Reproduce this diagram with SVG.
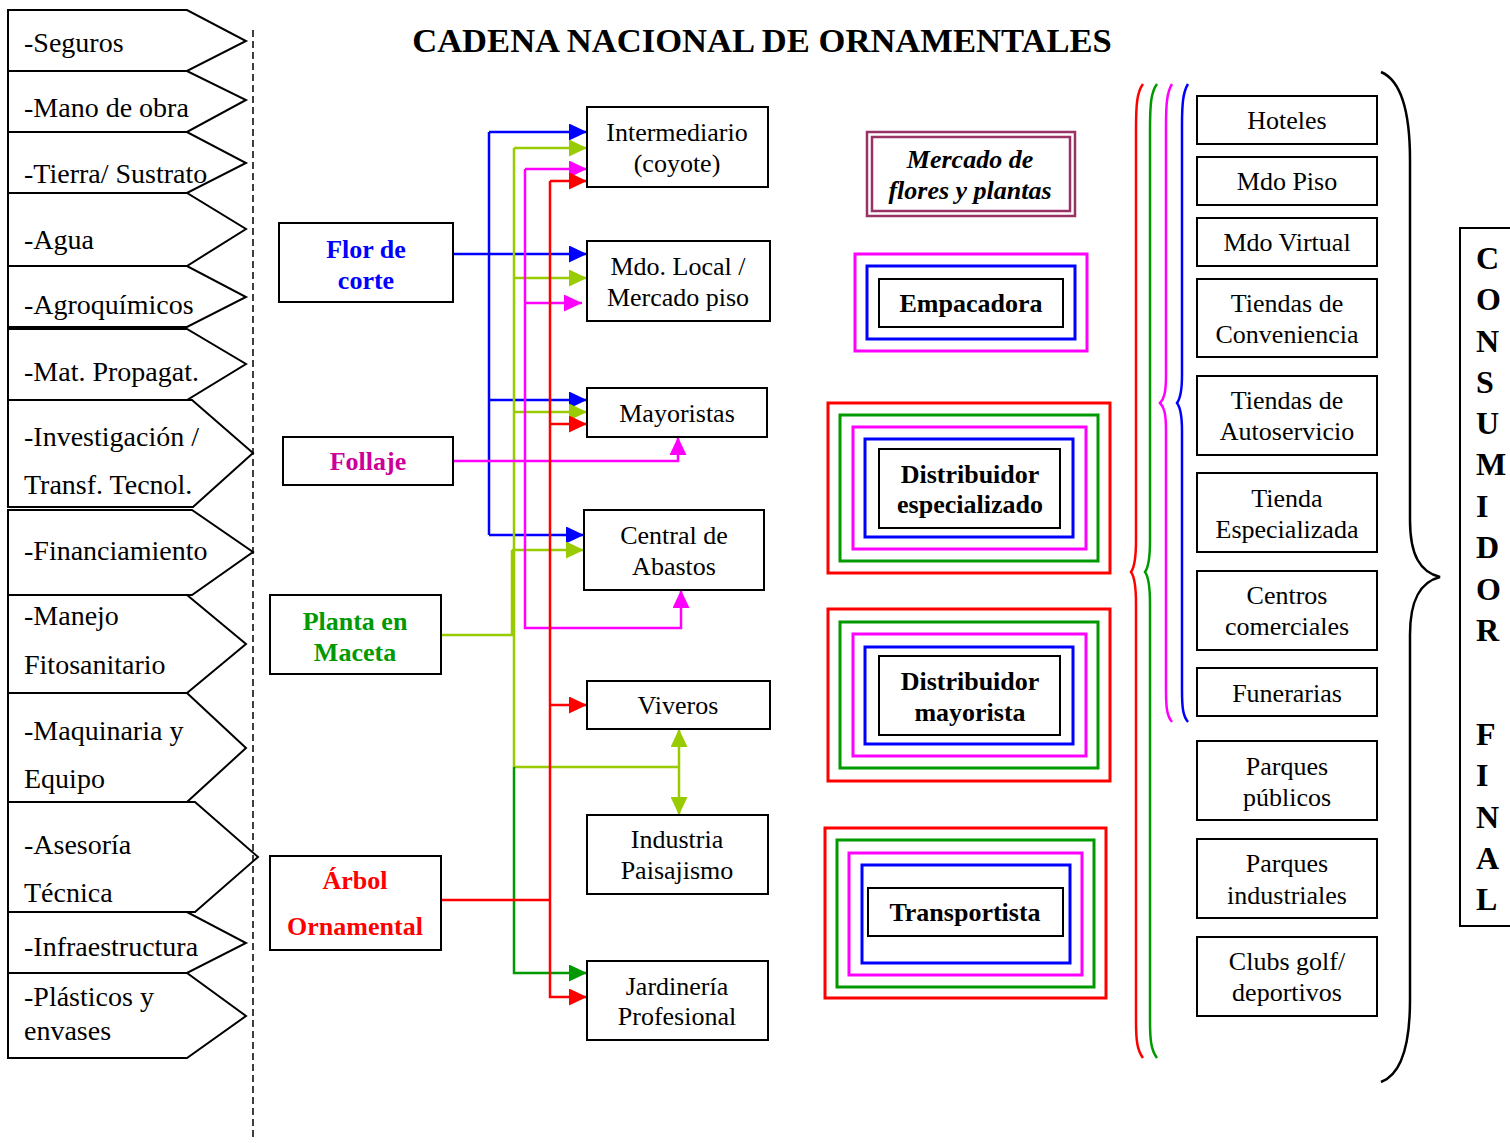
<svg xmlns="http://www.w3.org/2000/svg" width="1510" height="1143" viewBox="0 0 1510 1143">
<style>
.bg{fill:#fff}
.arr{fill:#fff;stroke:#000;stroke-width:2}
.lt{font-family:"Liberation Serif","Times New Roman",serif;font-size:28px;fill:#000}
.box{fill:#fff;stroke:#000;stroke-width:2}
.bt{font-family:"Liberation Serif","Times New Roman",serif;font-size:26px;fill:#000;text-anchor:middle}
.sb{font-family:"Liberation Serif","Times New Roman",serif;font-size:26px;font-weight:bold;text-anchor:middle}
.nb{font-family:"Liberation Serif","Times New Roman",serif;font-size:26px;font-weight:bold;fill:#000;text-anchor:middle}
.title{font-family:"Liberation Serif","Times New Roman",serif;font-size:34.6px;font-weight:bold;fill:#000;text-anchor:middle}
.cf{font-family:"Liberation Serif","Times New Roman",serif;font-size:32px;font-weight:bold;fill:#000}
.fr{fill:none;stroke-width:3}
.cb{fill:none;stroke:#0000FF;stroke-width:2.5}
.cy{fill:none;stroke:#99CC00;stroke-width:2.5}
.cm{fill:none;stroke:#FF00FF;stroke-width:2.5}
.cr{fill:none;stroke:#FF0000;stroke-width:2.5}
.cg{fill:none;stroke:#009900;stroke-width:2.5}
.brace{fill:none;stroke-width:2.5}
</style>
<defs>
<marker id="ab" markerUnits="userSpaceOnUse" markerWidth="18" markerHeight="17" refX="18" refY="8.5" orient="auto"><path d="M0,0 L18,8.5 L0,17 z" fill="#0000FF"/></marker>
<marker id="ay" markerUnits="userSpaceOnUse" markerWidth="18" markerHeight="17" refX="18" refY="8.5" orient="auto"><path d="M0,0 L18,8.5 L0,17 z" fill="#99CC00"/></marker>
<marker id="am" markerUnits="userSpaceOnUse" markerWidth="18" markerHeight="17" refX="18" refY="8.5" orient="auto"><path d="M0,0 L18,8.5 L0,17 z" fill="#FF00FF"/></marker>
<marker id="ar" markerUnits="userSpaceOnUse" markerWidth="18" markerHeight="17" refX="18" refY="8.5" orient="auto"><path d="M0,0 L18,8.5 L0,17 z" fill="#FF0000"/></marker>
<marker id="ag" markerUnits="userSpaceOnUse" markerWidth="18" markerHeight="17" refX="18" refY="8.5" orient="auto"><path d="M0,0 L18,8.5 L0,17 z" fill="#009900"/></marker>
</defs>
<rect class="bg" x="0" y="0" width="1510" height="1143"/>

<text class="title" x="762" y="52">CADENA NACIONAL DE ORNAMENTALES</text>

<!-- left input column -->
<g id="inputs">
<g id="in-seguros"><polygon class="arr" points="8,10 187,10 246,41 187,71 8,71"/><text class="lt" x="24" y="52">-Seguros</text></g>
<g id="in-mano"><polygon class="arr" points="8,71 187,71 246,100 187,132 8,132"/><text class="lt" x="24" y="117">-Mano de obra</text></g>
<g id="in-tierra"><polygon class="arr" points="8,132 187,132 246,163 187,193 8,193"/><text class="lt" x="24" y="183">-Tierra/ Sustrato</text></g>
<g id="in-agua"><polygon class="arr" points="8,193 187,193 246,229 187,266 8,266"/><text class="lt" x="24" y="249">-Agua</text></g>
<g id="in-agroq"><polygon class="arr" points="8,266 187,266 246,297 187,327 8,327"/><text class="lt" x="24" y="314">-Agroquímicos</text></g>
<g id="in-matprop"><polygon class="arr" points="8,329 187,329 246,364 187,400 8,400"/><text class="lt" x="24" y="381">-Mat. Propagat.</text></g>
<g id="in-invest"><polygon class="arr" points="8,400 192,400 253,453 193,507 8,507"/><text class="lt" x="24" y="446">-Investigación /</text><text class="lt" x="24" y="494">Transf. Tecnol.</text></g>
<g id="in-financ"><polygon class="arr" points="8,510 192,510 253,552 192,595 8,595"/><text class="lt" x="24" y="560">-Financiamiento</text></g>
<g id="in-manejo"><polygon class="arr" points="8,595 187,595 246,644 187,693 8,693"/><text class="lt" x="24" y="625">-Manejo</text><text class="lt" x="24" y="674">Fitosanitario</text></g>
<g id="in-maquinaria"><polygon class="arr" points="8,693 187,693 246,748 187,802 8,802"/><text class="lt" x="24" y="740">-Maquinaria y</text><text class="lt" x="24" y="788">Equipo</text></g>
<g id="in-asesoria"><polygon class="arr" points="8,802 195,802 258,857 195,912 8,912"/><text class="lt" x="24" y="854">-Asesoría</text><text class="lt" x="24" y="902">Técnica</text></g>
<g id="in-infra"><polygon class="arr" points="8,912 187,912 246,943 187,973 8,973"/><text class="lt" x="24" y="956">-Infraestructura</text></g>
<g id="in-plasticos"><polygon class="arr" points="8,973 187,973 246,1016 187,1058 8,1058"/><text class="lt" x="24" y="1006">-Plásticos y</text><text class="lt" x="24" y="1040">envases</text></g>
</g>

<line x1="253" y1="30" x2="253" y2="1140" stroke="#000" stroke-width="1.5" stroke-dasharray="7,4"/>

<!-- connectors -->
<g id="connectors">
<path class="cb" d="M489,132 V535"/>
<path class="cb" d="M489,132 H587" marker-end="url(#ab)"/>
<path class="cb" d="M453,254 H587" marker-end="url(#ab)"/>
<path class="cb" d="M489,400 H587" marker-end="url(#ab)"/>
<path class="cb" d="M489,535 H584" marker-end="url(#ab)"/>
<path class="cy" d="M514,148 V767"/>
<path class="cy" d="M514,148 H587" marker-end="url(#ay)"/>
<path class="cy" d="M514,278 H587" marker-end="url(#ay)"/>
<path class="cy" d="M514,412 H587" marker-end="url(#ay)"/>
<path class="cy" d="M512,550 H584" marker-end="url(#ay)"/>
<path class="cy" d="M512,550 V635"/>
<path class="cy" d="M441,635 H514"/>
<path class="cy" d="M514,767 H679"/>
<path class="cy" d="M679,767 V729" marker-end="url(#ay)"/>
<path class="cy" d="M679,767 V815" marker-end="url(#ay)"/>
<path class="cg" d="M514,767 V973 H587" marker-end="url(#ag)"/>
<path class="cm" d="M525,169 V628 H681 V590" marker-end="url(#am)"/>
<path class="cm" d="M525,169 H587" marker-end="url(#am)"/>
<path class="cm" d="M525,303 H582" marker-end="url(#am)"/>
<path class="cm" d="M453,461 H678 V437" marker-end="url(#am)"/>
<path class="cr" d="M550,181 V997 H587" marker-end="url(#ar)"/>
<path class="cr" d="M550,181 H587" marker-end="url(#ar)"/>
<path class="cr" d="M550,424 H587" marker-end="url(#ar)"/>
<path class="cr" d="M550,705 H587" marker-end="url(#ar)"/>
<path class="cr" d="M441,900 H550"/>
</g>

<!-- source nodes -->
<g id="src-flor"><rect class="box" x="279" y="223" width="174" height="79"/><text class="sb" fill="#0000FF" x="366" y="258">Flor de</text><text class="sb" fill="#0000FF" x="366" y="289">corte</text></g>
<g id="src-follaje"><rect class="box" x="283" y="437" width="170" height="48"/><text class="sb" fill="#CC0099" x="368" y="470">Follaje</text></g>
<g id="src-planta"><rect class="box" x="270" y="595" width="171" height="79"/><text class="sb" fill="#009900" x="355" y="630">Planta en</text><text class="sb" fill="#009900" x="355" y="661">Maceta</text></g>
<g id="src-arbol"><rect class="box" x="270" y="856" width="171" height="94"/><text class="sb" fill="#FF0000" x="355" y="889">Árbol</text><text class="sb" fill="#FF0000" x="355" y="935">Ornamental</text></g>

<!-- destination nodes -->
<g id="dst-intermediario"><rect class="box" x="587" y="107" width="181" height="80"/><text class="bt" x="677" y="141">Intermediario</text><text class="bt" x="677" y="172">(coyote)</text></g>
<g id="dst-mdolocal"><rect class="box" x="587" y="241" width="183" height="80"/><text class="bt" x="678" y="275">Mdo. Local /</text><text class="bt" x="678" y="306">Mercado piso</text></g>
<g id="dst-mayoristas"><rect class="box" x="587" y="388" width="180" height="49"/><text class="bt" x="677" y="422">Mayoristas</text></g>
<g id="dst-central"><rect class="box" x="584" y="510" width="180" height="80"/><text class="bt" x="674" y="544">Central de</text><text class="bt" x="674" y="575">Abastos</text></g>
<g id="dst-viveros"><rect class="box" x="587" y="681" width="183" height="48"/><text class="bt" x="678" y="714">Viveros</text></g>
<g id="dst-industria"><rect class="box" x="587" y="815" width="181" height="79"/><text class="bt" x="677" y="848">Industria</text><text class="bt" x="677" y="879">Paisajismo</text></g>
<g id="dst-jardineria"><rect class="box" x="587" y="961" width="181" height="79"/><text class="bt" x="677" y="995">Jardinería</text><text class="bt" x="677" y="1025">Profesional</text></g>

<!-- middle framed nodes -->
<g id="mercado">
<rect x="867" y="132" width="208" height="84" fill="none" stroke="#993366" stroke-width="2.5"/>
<rect x="872" y="137" width="198" height="74" fill="none" stroke="#993366" stroke-width="2.5"/>
<text class="nb" font-style="italic" x="970" y="168">Mercado de</text>
<text class="nb" font-style="italic" x="970" y="199">flores y plantas</text>
</g>
<g id="empacadora">
<rect class="fr" stroke="#FF00FF" x="855" y="254" width="232" height="97"/>
<rect class="fr" stroke="#0000FF" x="867" y="266" width="208" height="73"/>
<rect class="box" x="879" y="279" width="184" height="48"/>
<text class="nb" x="971" y="312">Empacadora</text>
</g>
<g id="dist-esp">
<rect class="fr" stroke="#FF0000" x="828" y="403" width="282" height="170"/>
<rect class="fr" stroke="#009900" x="840" y="415" width="258" height="146"/>
<rect class="fr" stroke="#FF00FF" x="853" y="427" width="233" height="122"/>
<rect class="fr" stroke="#0000FF" x="865" y="439" width="208" height="98"/>
<rect class="box" x="879" y="449" width="181" height="79"/>
<text class="nb" x="970" y="483">Distribuidor</text>
<text class="nb" x="970" y="513">especializado</text>
</g>
<g id="dist-may">
<rect class="fr" stroke="#FF0000" x="828" y="609" width="282" height="172"/>
<rect class="fr" stroke="#009900" x="840" y="622" width="258" height="146"/>
<rect class="fr" stroke="#FF00FF" x="853" y="634" width="233" height="122"/>
<rect class="fr" stroke="#0000FF" x="865" y="647" width="208" height="97"/>
<rect class="box" x="879" y="656" width="181" height="79"/>
<text class="nb" x="970" y="690">Distribuidor</text>
<text class="nb" x="970" y="721">mayorista</text>
</g>
<g id="transportista">
<rect class="fr" stroke="#FF0000" x="825" y="828" width="281" height="170"/>
<rect class="fr" stroke="#009900" x="837" y="840" width="257" height="147"/>
<rect class="fr" stroke="#FF00FF" x="849" y="853" width="233" height="122"/>
<rect class="fr" stroke="#0000FF" x="862" y="865" width="208" height="98"/>
<rect class="box" x="868" y="888" width="195" height="48"/>
<text class="nb" x="965" y="921">Transportista</text>
</g>

<!-- braces -->
<g id="braces">
<path class="brace" stroke="#FF0000" d="M1143,84 C1137,92 1136,104 1136,130 L1136,540 C1136,560 1134,568 1131,572 C1134,576 1136,584 1136,604 L1136,1020 C1136,1040 1137,1050 1143,1058"/>
<path class="brace" stroke="#009900" d="M1157,84 C1151,92 1150,104 1150,130 L1150,540 C1150,560 1148,568 1145,572 C1148,576 1150,584 1150,604 L1150,1020 C1150,1040 1151,1050 1157,1058"/>
<path class="brace" stroke="#FF00FF" d="M1172,84 C1167,92 1166,104 1166,125 L1166,375 C1166,393 1164,399 1160,403 C1164,407 1166,413 1166,431 L1166,690 C1166,708 1167,716 1172,722"/>
<path class="brace" stroke="#0000FF" d="M1188,84 C1183,92 1182,104 1182,125 L1182,375 C1182,393 1180,399 1177,403 C1180,407 1182,413 1182,431 L1182,690 C1182,708 1183,716 1188,722"/>
<path class="brace" stroke="#000" stroke-width="3" d="M1381,72 C1400,80 1410,110 1410,160 L1410,520 C1410,555 1420,572 1440,577 C1420,582 1410,600 1410,635 L1410,1000 C1410,1050 1400,1075 1381,1082"/>
</g>

<!-- consumer outlets -->
<g id="out-hoteles"><rect class="box" x="1197" y="96" width="180" height="48"/><text class="bt" x="1287" y="129">Hoteles</text></g>
<g id="out-mdopiso"><rect class="box" x="1197" y="157" width="180" height="48"/><text class="bt" x="1287" y="190">Mdo Piso</text></g>
<g id="out-mdovirtual"><rect class="box" x="1197" y="218" width="180" height="48"/><text class="bt" x="1287" y="251">Mdo Virtual</text></g>
<g id="out-conveniencia"><rect class="box" x="1197" y="279" width="180" height="78"/><text class="bt" x="1287" y="312">Tiendas de</text><text class="bt" x="1287" y="343">Conveniencia</text></g>
<g id="out-autoservicio"><rect class="box" x="1197" y="376" width="180" height="79"/><text class="bt" x="1287" y="409">Tiendas de</text><text class="bt" x="1287" y="440">Autoservicio</text></g>
<g id="out-especializada"><rect class="box" x="1197" y="473" width="180" height="79"/><text class="bt" x="1287" y="507">Tienda</text><text class="bt" x="1287" y="538">Especializada</text></g>
<g id="out-centros"><rect class="box" x="1197" y="571" width="180" height="79"/><text class="bt" x="1287" y="604">Centros</text><text class="bt" x="1287" y="635">comerciales</text></g>
<g id="out-funerarias"><rect class="box" x="1197" y="668" width="180" height="48"/><text class="bt" x="1287" y="702">Funerarias</text></g>
<g id="out-parquespub"><rect class="box" x="1197" y="741" width="180" height="79"/><text class="bt" x="1287" y="775">Parques</text><text class="bt" x="1287" y="806">públicos</text></g>
<g id="out-parquesind"><rect class="box" x="1197" y="839" width="180" height="79"/><text class="bt" x="1287" y="872">Parques</text><text class="bt" x="1287" y="904">industriales</text></g>
<g id="out-clubs"><rect class="box" x="1197" y="937" width="180" height="79"/><text class="bt" x="1287" y="970">Clubs golf/</text><text class="bt" x="1287" y="1001">deportivos</text></g>

<g id="consumidor">
<rect class="box" x="1460" y="228" width="60" height="698"/>
<text class="cf" x="1476" y="269">C</text>
<text class="cf" x="1476" y="310">O</text>
<text class="cf" x="1476" y="352">N</text>
<text class="cf" x="1476" y="393">S</text>
<text class="cf" x="1476" y="434">U</text>
<text class="cf" x="1476" y="475">M</text>
<text class="cf" x="1476" y="517">I</text>
<text class="cf" x="1476" y="558">D</text>
<text class="cf" x="1476" y="600">O</text>
<text class="cf" x="1476" y="641">R</text>
<text class="cf" x="1476" y="745">F</text>
<text class="cf" x="1476" y="786">I</text>
<text class="cf" x="1476" y="828">N</text>
<text class="cf" x="1476" y="869">A</text>
<text class="cf" x="1476" y="910">L</text>
</g>
</svg>
